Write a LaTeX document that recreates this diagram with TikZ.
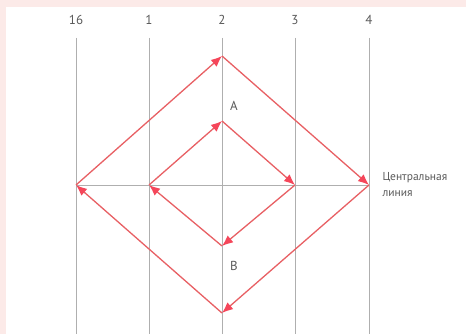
\documentclass[tikz,border=0pt]{standalone}
\usepackage{fontspec}
\setmainfont{PT Sans}
\definecolor{paleline}{RGB}{175, 175, 175}
\definecolor{pathred}{RGB}{232, 96, 100}
\definecolor{tipred}{RGB}{245, 70, 90}
\definecolor{labelgray}{RGB}{90, 90, 90}
\definecolor{scanpink}{RGB}{252, 234, 232}
\usetikzlibrary{arrows.meta, positioning}

\begin{document}
\begin{tikzpicture}[
        x=1pt, y=-1pt,
        every node/.style={font=\fontsize{13}{15}\selectfont, text=labelgray},
        gridline/.style={draw=paleline, line width=0.8pt},
        flow/.style={draw=pathred, line width=1.3pt, -{Latex[length=11pt, width=9pt, color=tipred]}},
        numlabel/.style={font=\fontsize{13}{15}\selectfont}
    ]
        % page and scan edge
        \fill[white] (0,0) rectangle (466,334);
        \fill[scanpink] (0,0) rectangle (466,7);
        \fill[scanpink] (0,0) rectangle (6,334);
        \useasboundingbox (0,0) rectangle (466,334);

        % vertical lines with their numbers
        \foreach \name/\x/\txt in {l16/76/16, l1/149/1, l2/222/2, l3/295/3, l4/369/4} {
            \node[numlabel] (\name) at (\x,20) {\txt};
            \draw[gridline] (\x,38) -- (\x,334);
        }

        % diamond corners
        \coordinate (otop) at (222,56);
        \coordinate (oright) at (369,185);
        \coordinate (obottom) at (222,313);
        \coordinate (oleft) at (76,185);
        \coordinate (itop) at (222,121);
        \coordinate (iright) at (295,185);
        \coordinate (ibottom) at (222,246);
        \coordinate (ileft) at (149,185);

        % central line
        \draw[gridline] (oleft) -- (oright);
        \node[anchor=west, align=left, font=\fontsize{11.5}{16}\selectfont] (central) at (379,184) {Центральная\\линия};

        % outer path
        \draw[flow] (oleft) -- (otop);
        \draw[flow] (otop) -- (oright);
        \draw[flow] (oright) -- (obottom);
        \draw[flow] (obottom) -- (oleft);

        % inner path
        \draw[flow] (ileft) -- (itop);
        \draw[flow] (itop) -- (iright);
        \draw[flow] (iright) -- (ibottom);
        \draw[flow] (ibottom) -- (ileft);

        \node (ptA) at (234,106) {A};
        \node (ptB) at (234,266) {B};
    \end{tikzpicture}
\end{document}
